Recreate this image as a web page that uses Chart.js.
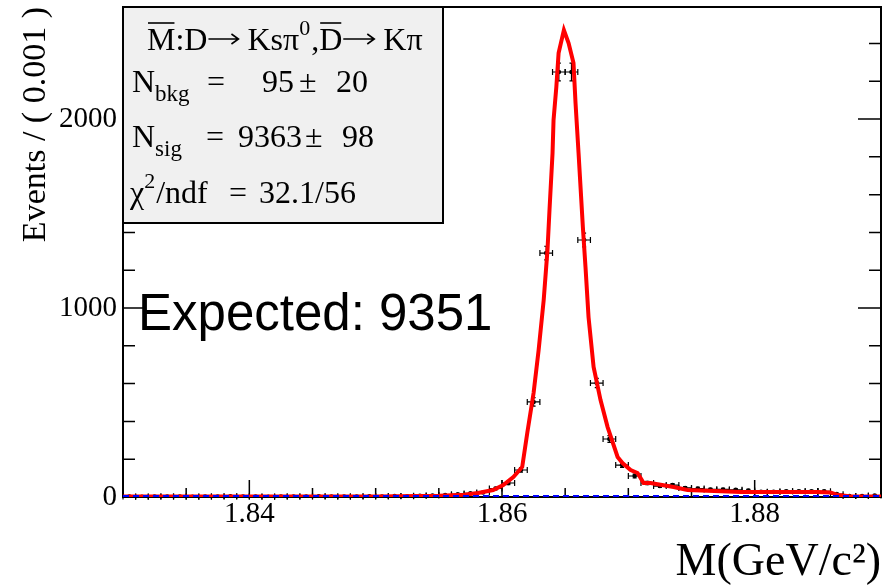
<!DOCTYPE html>
<html lang="en">
<head>
<meta charset="UTF-8" />
<title>D mass fit</title>
<script src="https://cdn.jsdelivr.net/npm/chart.js@4"></script>
<style>
  html, body { margin: 0; padding: 0; background: #fff; }
  #wrap { position: relative; width: 892px; height: 585px; }
</style>
</head>
<body>
<div id="wrap"><canvas id="chart" width="892" height="585"></canvas></div>
<script>
// binned data, 0.001 GeV/c^2 bins
const binCenters = [
  1.8305, 1.8315, 1.8325, 1.8335, 1.8345, 1.8355, 1.8365, 1.8375, 1.8385, 1.8395,
  1.8405, 1.8415, 1.8425, 1.8435, 1.8445, 1.8455, 1.8465, 1.8475, 1.8485, 1.8495,
  1.8505, 1.8515, 1.8525, 1.8535, 1.8545, 1.8555, 1.8565, 1.8575, 1.8585, 1.8595,
  1.8605, 1.8615, 1.8625, 1.8635, 1.8645, 1.8655, 1.8665, 1.8675, 1.8685, 1.8695,
  1.8705, 1.8715, 1.8725, 1.8735, 1.8745, 1.8755, 1.8765, 1.8775, 1.8785, 1.8795,
  1.8805, 1.8815, 1.8825, 1.8835, 1.8845, 1.8855, 1.8865, 1.8875, 1.8885, 1.8895
];
const binCounts = [
  2, 1, 3, 2, 2, 1, 3, 2, 4, 2,
  3, 1, 2, 3, 2, 4, 2, 3, 2, 4,
  3, 5, 4, 6, 8, 10, 14, 19, 24, 45,
  74, 143, 503, 1291, 2249, 2249, 1360, 603, 307, 169,
  111, 74, 58, 63, 48, 45, 40, 40, 38, 34,
  28, 27, 30, 30, 30, 30, 15, 5, 5, 8
];
const binHalfWidth = 0.0005;

// total fit curve
const fitX = [
  1.830, 1.850, 1.855, 1.857, 1.8581, 1.8593, 1.8601, 1.8609, 1.8616, 1.8620,
  1.8625, 1.8629, 1.8633, 1.8636, 1.86376, 1.8640, 1.86408, 1.8643, 1.86448, 1.8649,
  1.86527, 1.86566, 1.86582, 1.86606, 1.8664, 1.86661, 1.86685, 1.86725, 1.8678, 1.86836,
  1.86915, 1.86954, 1.87018, 1.87073, 1.87121, 1.87176, 1.87358, 1.87469, 1.8789, 1.8850,
  1.8860, 1.8866, 1.8875, 1.890
];
const fitY = [
  2, 3, 6, 12, 21, 37, 63, 106, 159, 339,
  550, 778, 1042, 1307, 1519, 1820, 1995, 2169, 2349, 2471,
  2402, 2296, 2085, 1820, 1430, 1217, 952, 688, 513, 370,
  212, 180, 143, 127, 74, 74, 53, 37, 26, 26,
  24, 10, 4, 2
];

// background component
const bkgX = [1.830, 1.890];
const bkgY = [1.8, 1.4];

const xRange = [1.83, 1.89];
const yRange = [0, 2593];
const xMajorTicks = [1.84, 1.86, 1.88];
const xMinorTicks = [1.835, 1.845, 1.85, 1.855, 1.865, 1.87, 1.875, 1.885];
const yMajorTicks = [0, 1000, 2000];
const yMinorTicks = [200, 400, 600, 800, 1200, 1400, 1600, 1800, 2200, 2400];

const SERIF = 'Liberation Serif';
const SANS = 'Liberation Sans';

const points = binCenters.map((x, i) => ({ x, y: binCounts[i] }));
const fitLine = fitX.map((x, i) => ({ x, y: fitY[i] }));
const bkgLine = bkgX.map((x, i) => ({ x, y: bkgY[i] }));

// frame with inward ticks, then poisson error bars; both sit under the curves
const frameAndErrors = {
  id: 'frameAndErrors',
  beforeDatasetsDraw(chart) {
    const { ctx, chartArea: a, scales: { x, y } } = chart;
    ctx.save();
    ctx.strokeStyle = '#000';
    ctx.lineWidth = 2;
    ctx.strokeRect(a.left, a.top, a.right - a.left, a.bottom - a.top);
    ctx.lineWidth = 1.5;
    ctx.beginPath();
    const yTick = (v, len) => {
      const py = y.getPixelForValue(v);
      ctx.moveTo(a.left, py); ctx.lineTo(a.left + len, py);
      ctx.moveTo(a.right, py); ctx.lineTo(a.right - len, py);
    };
    const xTick = (v, len) => {
      const px = x.getPixelForValue(v);
      ctx.moveTo(px, a.bottom); ctx.lineTo(px, a.bottom - len);
    };
    yMajorTicks.forEach(v => yTick(v, 23));
    yMinorTicks.forEach(v => yTick(v, 12));
    xMajorTicks.forEach(v => xTick(v, 17));
    xMinorTicks.forEach(v => xTick(v, 9));
    ctx.stroke();

    ctx.lineWidth = 1.2;
    binCenters.forEach((c, i) => {
      const n = binCounts[i];
      const err = Math.sqrt(n);
      const px = x.getPixelForValue(c);
      const py = y.getPixelForValue(n);
      const x0 = x.getPixelForValue(c - binHalfWidth);
      const x1 = x.getPixelForValue(c + binHalfWidth);
      const y0 = y.getPixelForValue(Math.max(0, n - err));
      const y1 = y.getPixelForValue(n + err);
      ctx.beginPath();
      ctx.moveTo(x0, py); ctx.lineTo(x1, py);
      ctx.moveTo(x0, py - 3); ctx.lineTo(x0, py + 3);
      ctx.moveTo(x1, py - 3); ctx.lineTo(x1, py + 3);
      ctx.moveTo(px, y0); ctx.lineTo(px, y1);
      ctx.moveTo(px - 2, y1); ctx.lineTo(px + 2, y1);
      ctx.moveTo(px - 2, y0); ctx.lineTo(px + 2, y0);
      ctx.stroke();
    });
    ctx.restore();
  }
};

// draws a run of text pieces left to right; {arrow: w} draws a right arrow
function drawRun(ctx, x, base, parts) {
  for (const p of parts) {
    if (p.arrow) {
      const ay = base - 11;
      ctx.lineWidth = 1.6;
      ctx.beginPath();
      ctx.moveTo(x + 1, ay); ctx.lineTo(x + p.arrow - 1, ay);
      ctx.moveTo(x + p.arrow - 8, ay - 5); ctx.lineTo(x + p.arrow - 1, ay); ctx.lineTo(x + p.arrow - 8, ay + 5);
      ctx.stroke();
      x += p.arrow;
      continue;
    }
    const size = p.size || 32;
    ctx.font = `${size}px "${SERIF}"`;
    const w = ctx.measureText(p.t).width;
    ctx.fillText(p.t, x, base + (p.dy || 0));
    if (p.over) {
      ctx.lineWidth = 1.6;
      ctx.beginPath();
      ctx.moveTo(x + 1, base - 27);
      ctx.lineTo(x + w - 1, base - 27);
      ctx.stroke();
    }
    x += w + (p.gap || 0);
  }
  return x;
}

const statsBox = {
  id: 'statsBox',
  afterDraw(chart) {
    const { ctx } = chart;
    ctx.save();
    ctx.fillStyle = '#f0f0f0';
    ctx.fillRect(123, 7, 320, 216);
    ctx.strokeStyle = '#000';
    ctx.lineWidth = 2;
    ctx.strokeRect(123, 7, 320, 216);

    ctx.fillStyle = '#000';
    ctx.textBaseline = 'alphabetic';
    ctx.textAlign = 'left';

    drawRun(ctx, 147, 50, [
      { t: 'M', over: true }, { t: ':D' }, { arrow: 32 }, { t: ' Ksπ' },
      { t: '0', size: 22, dy: -15, gap: 1 }, { t: ',' }, { t: 'D', over: true },
      { arrow: 33 }, { t: ' Kπ' }
    ]);

    drawRun(ctx, 132, 92, [{ t: 'N' }, { t: 'bkg', size: 23, dy: 9 }]);
    drawRun(ctx, 207, 92, [{ t: '=' }]);
    drawRun(ctx, 262, 92, [{ t: '95' }]);
    drawRun(ctx, 299, 92, [{ t: '±' }]);
    drawRun(ctx, 336, 92, [{ t: '20' }]);

    drawRun(ctx, 132, 147, [{ t: 'N' }, { t: 'sig', size: 23, dy: 9 }]);
    drawRun(ctx, 206, 147, [{ t: '=' }]);
    drawRun(ctx, 238, 147, [{ t: '9363' }]);
    drawRun(ctx, 305, 147, [{ t: '±' }]);
    drawRun(ctx, 342, 147, [{ t: '98' }]);

    drawRun(ctx, 130, 203, [{ t: 'χ' }, { t: '2', size: 22, dy: -15, gap: 1 }, { t: '/ndf' }]);
    drawRun(ctx, 229, 203, [{ t: '=' }]);
    drawRun(ctx, 259, 203, [{ t: '32.1/56' }]);

    ctx.font = `51px "${SANS}"`;
    ctx.fillText('Expected: 9351', 138, 330);
    ctx.restore();
  }
};

new Chart(document.getElementById('chart'), {
  type: 'scatter',
  data: {
    datasets: [
      {
        label: 'data',
        data: points,
        pointRadius: 2.3,
        pointBackgroundColor: '#000',
        pointBorderWidth: 0,
        order: 3
      },
      {
        label: 'fit',
        data: fitLine,
        showLine: true,
        borderColor: '#ff0000',
        borderWidth: 4,
        pointRadius: 0,
        tension: 0,
        order: 2
      },
      {
        label: 'background',
        data: bkgLine,
        showLine: true,
        borderColor: '#0000ff',
        borderWidth: 3.5,
        borderDash: [6, 4],
        pointRadius: 0,
        order: 1
      }
    ]
  },
  options: {
    responsive: false,
    animation: false,
    devicePixelRatio: 1,
    layout: { padding: { left: 0, top: 7, right: 11, bottom: 0 } },
    plugins: {
      legend: { display: false },
      tooltip: { enabled: false }
    },
    scales: {
      x: {
        type: 'linear',
        min: xRange[0],
        max: xRange[1],
        afterBuildTicks: s => { s.ticks = xMajorTicks.map(v => ({ value: v })); },
        afterFit: s => { s.height = 88; s.paddingLeft = 0; s.paddingRight = 0; },
        grid: { display: false },
        border: { display: false },
        ticks: {
          color: '#000',
          padding: -8,
          maxRotation: 0,
          autoSkip: false,
          font: { family: SERIF, size: 29 },
          callback: v => v.toFixed(2)
        },
        title: {
          display: true,
          text: 'M(GeV/c²)',
          align: 'end',
          color: '#000',
          padding: 0,
          font: { family: SERIF, size: 46, lineHeight: 0.95 }
        }
      },
      y: {
        min: yRange[0],
        max: yRange[1],
        afterBuildTicks: s => { s.ticks = yMajorTicks.map(v => ({ value: v })); },
        afterFit: s => { s.width = 123; s.paddingTop = 0; s.paddingBottom = 0; },
        grid: { display: false },
        border: { display: false },
        ticks: {
          color: '#000',
          padding: -2,
          font: { family: SERIF, size: 29 },
          callback: v => String(v)
        },
        title: {
          display: true,
          text: 'Events / ( 0.001 )',
          align: 'end',
          color: '#000',
          padding: { top: 16, bottom: 0 },
          font: { family: SERIF, size: 34 }
        }
      }
    }
  },
  plugins: [frameAndErrors, statsBox]
});
</script>
</body>
</html>
